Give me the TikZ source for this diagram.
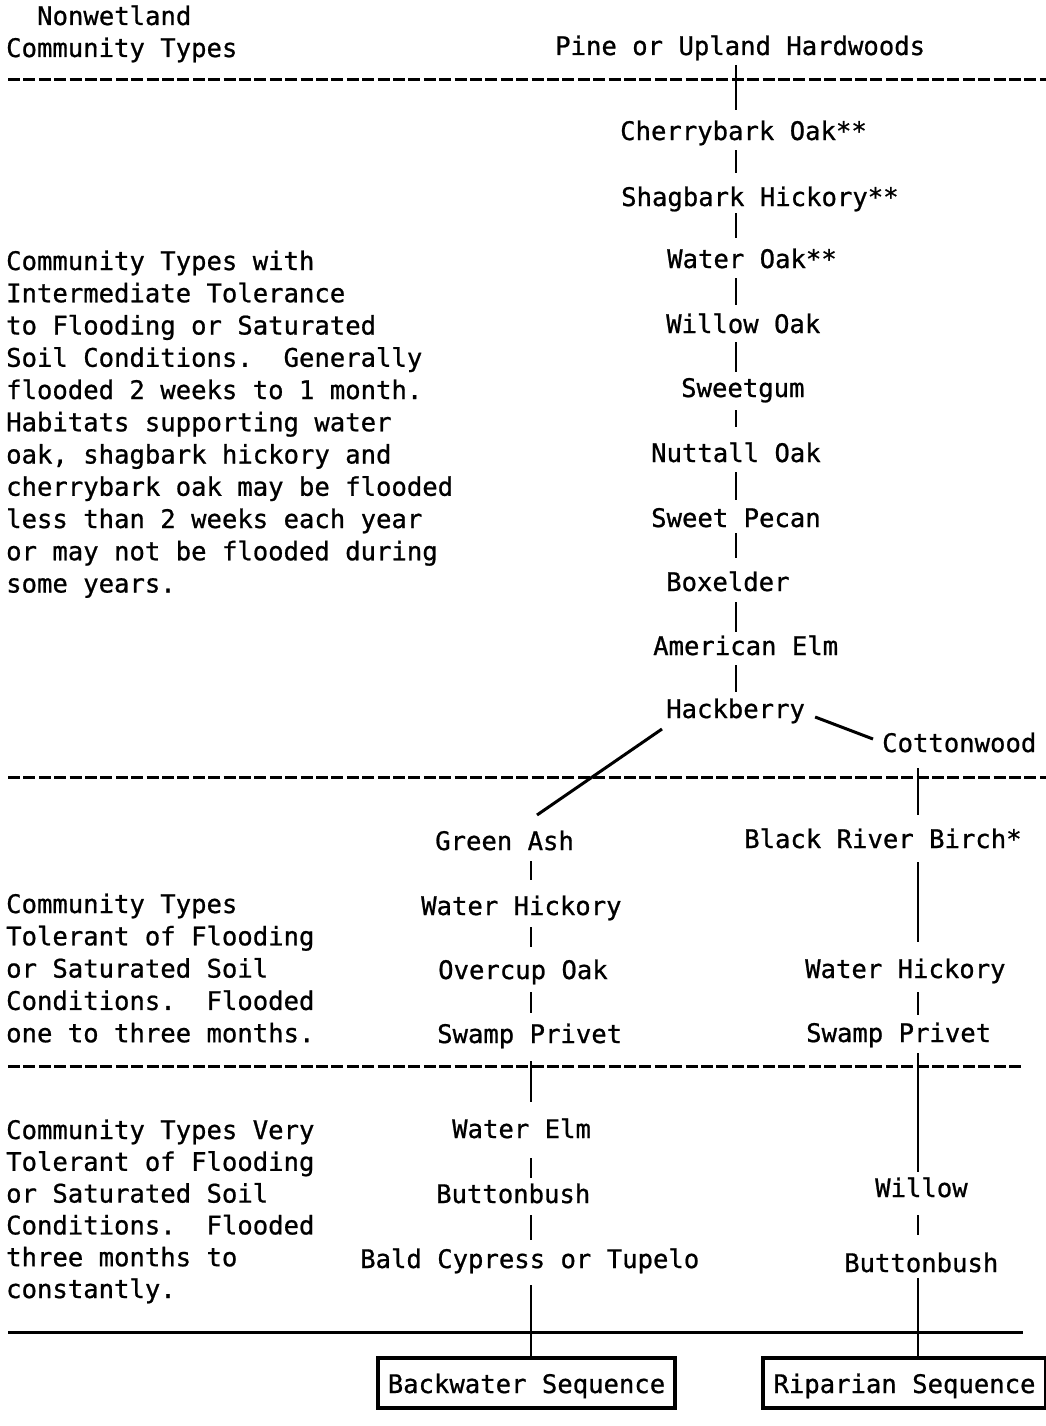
\documentclass[tikz,border=0pt]{standalone}
\usepackage{fontspec}
\newfontfamily\tw[FakeBold=0.8]{DejaVu Sans Mono}
\usetikzlibrary{calc}
\newcommand\vlink[5]{\draw[conn] ($(#1.base -| #3)+(0,#4)$) -- ($(#2.base -| #3)+(0,-#5)$);}
\begin{document}
\begin{tikzpicture}[x=1pt,y=-1pt,
  tx/.style={font=\tw\fontsize{25.6pt}{30pt}\selectfont, inner sep=0pt, anchor=base west},
  conn/.style={line width=2.8pt},
  diag/.style={line width=3pt},
  sepdash/.style={line width=3pt, dash pattern=on 12pt off 3.4pt},
  sepsolid/.style={line width=3pt},
  seqbox/.style={draw, line width=4pt, inner sep=0pt, font=\tw\fontsize{25.6pt}{30pt}\selectfont, text height=22pt, text depth=2pt}]
\useasboundingbox[fill=white] (0,0) rectangle (1046,1426);

% column coordinates
\coordinate (mx) at (736,0);
\coordinate (lx) at (531,0);
\coordinate (rx) at (918,0);

% header
\node[tx] (hnon) at (37,25) {Nonwetland};
\node[tx] (hcom) at (6,57) {Community Types};
\node[tx] (pine) at (555,55) {Pine or Upland Hardwoods};

% separators
\draw[sepdash] (8,80) -- (1046,80);
\draw[sepdash] (8,777) -- (1046,777);
\draw[sepdash] (8,1066) -- (1022,1066);
\draw[sepsolid] (8,1332) -- (1023,1332);

% left descriptions
\foreach \s [count=\i] in {Community Types with, Intermediate Tolerance, to Flooding or Saturated, Soil Conditions.\ \ Generally, flooded 2 weeks to 1 month., Habitats supporting water, {oak, shagbark hickory and}, cherrybark oak may be flooded, less than 2 weeks each year, or may not be flooded during, some years.}
  \node[tx] (ta\i) at (6,{270+32.25*(\i-1)}) {\s};
\foreach \s [count=\i] in {Community Types, Tolerant of Flooding, or Saturated Soil, Conditions.\ \ Flooded, one to three months.}
  \node[tx] (tb\i) at (6,{913+32.3*(\i-1)}) {\s};
\foreach \s [count=\i] in {Community Types Very, Tolerant of Flooding, or Saturated Soil, Conditions.\ \ Flooded, three months to, constantly.}
  \node[tx] (tc\i) at (6,{1139+31.8*(\i-1)}) {\s};

% main chain
\node[tx] (cherry) at (620,140) {Cherrybark Oak**};
\node[tx] (shag) at (621,206) {Shagbark Hickory**};
\node[tx] (wateroak) at (667,268) {Water Oak**};
\node[tx] (willowoak) at (666,333) {Willow Oak};
\node[tx] (sweetgum) at (681,397) {Sweetgum};
\node[tx] (nuttall) at (651,462) {Nuttall Oak};
\node[tx] (pecan) at (651,527) {Sweet Pecan};
\node[tx] (boxelder) at (666,591) {Boxelder};
\node[tx] (amelm) at (653,655) {American Elm};
\node[tx] (hack) at (666,718) {Hackberry};
\node[tx] (cotton) at (882,752) {Cottonwood};

% backwater chain
\node[tx] (greenash) at (435,850) {Green Ash};
\node[tx] (whl) at (421,915) {Water Hickory};
\node[tx] (overcup) at (438,979) {Overcup Oak};
\node[tx] (spl) at (437,1043) {Swamp Privet};
\node[tx] (waterelm) at (452,1138) {Water Elm};
\node[tx] (bbl) at (436,1203) {Buttonbush};
\node[tx] (bald) at (360,1268) {Bald Cypress or Tupelo};

% riparian chain
\node[tx] (birch) at (744,848) {Black River Birch*};
\node[tx] (whr) at (805,978) {Water Hickory};
\node[tx] (spr) at (806,1042) {Swamp Privet};
\node[tx] (willow) at (875,1197) {Willow};
\node[tx] (bbr) at (844,1272) {Buttonbush};

% sequence boxes
\node[seqbox, minimum width=297pt, minimum height=50pt] (bwbox) at (526.5,1383) {Backwater Sequence};
\node[seqbox, minimum width=283pt, minimum height=50pt] (ripbox) at (904.5,1383) {Riparian Sequence};

% connectors: main chain
\vlink{pine}{cherry}{mx}{10}{30}
\vlink{cherry}{shag}{mx}{10}{33}
\vlink{shag}{wateroak}{mx}{7}{30}
\vlink{wateroak}{willowoak}{mx}{10}{28}
\vlink{willowoak}{sweetgum}{mx}{9}{25}
\vlink{sweetgum}{nuttall}{mx}{13}{35}
\vlink{nuttall}{pecan}{mx}{10}{27}
\vlink{pecan}{boxelder}{mx}{6}{33}
\vlink{boxelder}{amelm}{mx}{11}{23}
\vlink{amelm}{hack}{mx}{10}{26}
\draw[diag] ($(hack.base east)+(10,-1)$) -- ($(cotton.base west)+(-9,-13)$);
\draw[diag] ($(hack.base west)+(-4,11)$) -- ($(greenash.base west)+(102,-35)$);

% connectors: backwater chain
\vlink{greenash}{whl}{lx}{11}{35}
\vlink{whl}{overcup}{lx}{12}{32}
\vlink{overcup}{spl}{lx}{13}{30}
\vlink{spl}{waterelm}{lx}{18}{36}
\vlink{waterelm}{bbl}{lx}{20}{25}
\vlink{bbl}{bald}{lx}{12}{28}
\draw[conn] ($(bald.base -| lx)+(0,17)$) -- (bwbox.north -| lx);

% connectors: riparian chain
\vlink{cotton}{birch}{rx}{16}{33}
\vlink{birch}{whr}{rx}{14}{36}
\vlink{whr}{spr}{rx}{14}{27}
\vlink{spr}{willow}{rx}{11}{25}
\vlink{willow}{bbr}{rx}{18}{37}
\draw[conn] ($(bbr.base -| rx)+(0,6)$) -- (ripbox.north -| rx);
\end{tikzpicture}
\end{document}
